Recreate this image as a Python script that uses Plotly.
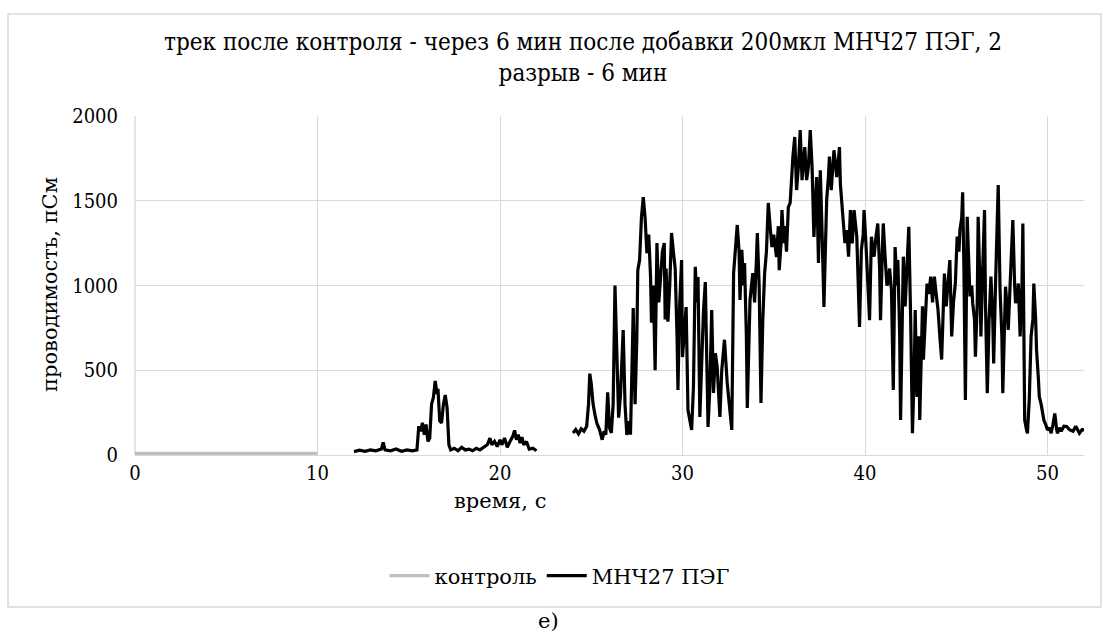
import plotly.graph_objects as go

# ---- data ----
ctrl_t = [0.0, 0.5, 1.0, 1.5, 2.0, 2.5, 3.0, 3.5, 4.0, 4.5, 5.0, 5.5, 6.0, 6.5, 7.0, 7.5, 8.0, 8.5, 9.0, 9.5, 10.0]
ctrl_v = [10, 9, 11, 8, 10, 9, 10, 8, 9, 10, 8, 9, 10, 9, 8, 10, 9, 10, 9, 10, 9]

seg1_t = [12.0, 12.3, 12.6, 12.9, 13.2, 13.5, 13.6, 13.7, 14.0, 14.3, 14.6, 14.9, 15.2, 15.45, 15.55,
          15.65, 15.75, 15.85, 15.95, 16.05, 16.15, 16.25, 16.35, 16.45, 16.55, 16.6, 16.7, 16.8, 16.9,
          17.0, 17.1, 17.2, 17.3, 17.5, 17.7, 17.9, 18.1, 18.3, 18.5, 18.7, 18.9, 19.1, 19.3, 19.45,
          19.55, 19.7, 19.85, 20.0, 20.1, 20.25, 20.4, 20.55, 20.7, 20.8, 20.9, 21.0, 21.1, 21.2, 21.3,
          21.45, 21.6, 21.8, 22.0]
seg1_v = [20, 28, 22, 30, 25, 35, 75, 30, 25, 35, 22, 30, 25, 30, 170,
          140, 190, 120, 180, 80, 100, 300, 340, 437, 360, 390, 200, 190, 300,
          354, 280, 60, 30, 40, 25, 45, 30, 35, 25, 40, 30, 45, 60, 100,
          60, 80, 50, 90, 60, 100, 45, 80, 110, 145, 90, 120, 70, 105, 60,
          80, 35, 40, 25]

seg2_t = [24.0, 24.15, 24.3, 24.45, 24.6, 24.75, 24.85, 24.92, 25.0, 25.1, 25.2, 25.3, 25.45, 25.6, 25.7,
          25.8, 25.9, 26.0, 26.1, 26.2, 26.3, 26.4, 26.5, 26.6, 26.75, 26.85, 26.95, 27.05, 27.15, 27.25,
          27.3, 27.4, 27.5, 27.55, 27.65, 27.75, 27.85, 27.95, 28.05, 28.15, 28.25, 28.3, 28.4, 28.5, 28.6,
          28.7, 28.8, 28.9, 29.0, 29.05, 29.1, 29.2, 29.3, 29.4, 29.5, 29.6, 29.7, 29.75, 29.85, 29.95,
          30.0, 30.1, 30.2, 30.3, 30.4, 30.5, 30.6, 30.7, 30.8, 30.85, 30.95, 31.05, 31.15, 31.25, 31.4,
          31.5, 31.6, 31.7, 31.8, 31.9, 32.0, 32.05, 32.15, 32.3, 32.45, 32.55, 32.65, 32.7, 32.8, 32.9,
          33.0, 33.1, 33.15, 33.25, 33.35, 33.4, 33.5, 33.55, 33.7, 33.85, 33.95, 34.05, 34.1, 34.2, 34.3,
          34.4, 34.5, 34.6, 34.7, 34.8, 34.9, 35.0, 35.1, 35.15, 35.25, 35.3, 35.4, 35.45, 35.55, 35.6,
          35.7, 35.8, 35.9, 36.0, 36.05, 36.15, 36.25, 36.35, 36.45, 36.55, 36.65, 36.7, 36.8, 36.9, 37.0,
          37.1, 37.2, 37.3, 37.35, 37.45, 37.55, 37.65, 37.75, 37.85, 37.9, 38.0, 38.05, 38.15, 38.25, 38.3,
          38.4, 38.45, 38.55, 38.6, 38.65, 38.75, 38.8, 38.9, 39.0, 39.1, 39.2, 39.3, 39.4, 39.5, 39.55,
          39.7, 39.8, 39.9, 39.95, 40.05, 40.1, 40.25, 40.35, 40.45, 40.5, 40.6, 40.7, 40.8, 40.85, 40.95,
          41.0, 41.1, 41.2, 41.25, 41.35, 41.45, 41.55, 41.65, 41.75, 41.8, 41.9, 41.95, 42.05, 42.1, 42.2,
          42.3, 42.4, 42.5, 42.6, 42.7, 42.75, 42.85, 42.95, 43.0, 43.1, 43.15, 43.2, 43.3, 43.4, 43.5,
          43.6, 43.7, 43.8, 43.9, 44.0, 44.1, 44.2, 44.3, 44.35, 44.45, 44.55, 44.65, 44.75, 44.85, 44.95,
          45.05, 45.15, 45.2, 45.3, 45.35, 45.42, 45.5, 45.6, 45.7, 45.75, 45.85, 45.9, 46.0, 46.05, 46.15,
          46.2, 46.3, 46.35, 46.45, 46.55, 46.6, 46.7, 46.8, 46.9, 47.0, 47.05, 47.15, 47.2, 47.3, 47.4,
          47.5, 47.55, 47.65, 47.7, 47.8, 47.85, 47.95, 48.0, 48.1, 48.2, 48.25, 48.35, 48.4, 48.5, 48.6,
          48.65, 48.75, 48.85, 48.9, 49.0, 49.1, 49.2, 49.25, 49.35, 49.4, 49.5, 49.55, 49.65, 49.7, 49.8,
          49.9, 50.0, 50.1, 50.2, 50.3, 50.4, 50.5, 50.55, 50.65, 50.75, 50.9, 51.05, 51.2, 51.4, 51.55,
          51.75, 51.9, 52.05, 52.2]
seg2_v = [130, 150, 125, 155, 140, 170, 300, 480, 420, 300, 240, 190, 150, 90, 140,
          120, 370, 160, 130, 300, 1000, 600, 220, 350, 737, 300, 118, 200, 120, 600,
          867, 300, 700, 1090, 1150, 1400, 1522, 1400, 1190, 1300, 1050, 780, 1000, 500, 1250,
          900, 1050, 1200, 1250, 800, 1100, 787, 1000, 1310, 1200, 1100, 700, 383, 900, 1150,
          578, 750, 873, 265, 200, 148, 400, 1110, 900, 1050, 224, 600, 850, 1020, 165,
          400, 855, 366, 600, 520, 300, 224, 500, 680, 425, 300, 200, 148, 1073, 1200,
          1357, 1200, 915, 1210, 1000, 1133, 700, 277, 915, 1073, 900, 1150, 1310, 1000, 307,
          800, 1073, 1200, 1487, 1350, 1227, 1300, 1200, 1168, 1350, 1090, 1250, 1445, 1250, 1350,
          1200, 1463, 1487, 1740, 1760, 1876, 1563, 1700, 1917, 1622, 1750, 1817, 1622, 1700, 1917,
          1700, 1287, 1500, 1640, 1133, 1680, 1306, 873, 1300, 1504, 1650, 1760, 1563, 1700, 1798,
          1700, 1640, 1750, 1817, 1600, 1450, 1386, 1250, 1327, 1170, 1445, 1248, 1445, 1300, 1288,
          755, 1209, 1300, 1445, 1250, 1110, 795, 1288, 1200, 1170, 1288, 1366, 1100, 795, 1200,
          1366, 1170, 1000, 1012, 1100, 972, 383, 1227, 1000, 1150, 700, 206, 800, 1170, 877,
          1100, 1346, 815, 128, 500, 855, 343, 700, 206, 600, 877, 563, 800, 1012, 950,
          1052, 900, 1052, 950, 857, 700, 563, 900, 1071, 877, 1000, 1150, 700, 900, 1012,
          1288, 1200, 1327, 1400, 1550, 1100, 324, 1406, 1100, 936, 1000, 896, 800, 580, 900,
          1406, 1000, 700, 1100, 1445, 900, 365, 800, 1052, 800, 540, 1000, 1248, 1593, 974,
          700, 365, 800, 993, 850, 738, 1000, 1150, 1386, 1000, 896, 950, 1012, 700, 1000,
          1366, 206, 150, 128, 324, 700, 800, 1012, 800, 620, 450, 345, 300, 266, 206,
          180, 147, 160, 128, 180, 245, 150, 128, 160, 140, 170, 168, 150, 140, 170,
          128, 150, 147, 130]

# join the two recorded segments of the sample trace (gap between them)
mnp_t = seg1_t + [None] + seg2_t
mnp_v = seg1_v + [None] + seg2_v

title_text = "трек после контроля - через 6 мин после добавки 200мкл МНЧ27 ПЭГ, 2<br>разрыв - 6 мин"
x_title = "время, с"
y_title = "проводимость, пСм"
name_ctrl = "контроль"
name_mnp = "МНЧ27 ПЭГ"
panel_label = "е)"

FONT = "DejaVu Serif"
FONTC = "DejaVu Serif Condensed"
GRID = "#D9D9D9"

fig = go.Figure()
fig.add_trace(go.Scatter(x=ctrl_t, y=ctrl_v, mode="lines", name=name_ctrl,
                         line=dict(color="#BFBFBF", width=3.2)))
fig.add_trace(go.Scatter(x=mnp_t, y=mnp_v, mode="lines", name=name_mnp,
                         line=dict(color="#000000", width=3.2), connectgaps=False))

L, R, T, B = 135, 1084, 116, 455
W, H = 1103, 637
pw, ph = R - L, B - T

def px(x):
    return (x - L) / pw

def py(y):
    return (B - y) / ph

fig.update_layout(
    width=W, height=H,
    margin=dict(l=L, r=W - R, t=T, b=H - B, pad=0),
    paper_bgcolor="white", plot_bgcolor="white",
    font=dict(family=FONT, size=21, color="#000000"),
    title=dict(text=title_text, x=583 / W, xanchor="center", xref="container",
               y=1 - 50 / H, yanchor="middle", yref="container",
               font=dict(family=FONTC, size=24, color="#000000")),
    showlegend=True,
    legend=dict(orientation="h", x=px(560), xanchor="center", y=py(576), yanchor="middle",
                font=dict(family=FONT, size=21, color="#000000"),
                itemwidth=40, traceorder="normal", bgcolor="rgba(0,0,0,0)"),
    xaxis=dict(range=[0, 52], tickvals=[0, 10, 20, 30, 40, 50], showgrid=True, gridcolor=GRID,
               gridwidth=1.3, zeroline=False, showline=True, linecolor=GRID, linewidth=1.3,
               ticks="", tickfont=dict(family=FONTC, size=20, color="#000000"),
               ticklabelstandoff=0),
    yaxis=dict(range=[0, 2000], tickvals=[0, 500, 1000, 1500, 2000], showgrid=True, gridcolor=GRID,
               gridwidth=1.3, zeroline=False, showline=False,
               ticks="", tickfont=dict(family=FONTC, size=20, color="#000000"),
               ticklabelstandoff=16),
    shapes=[dict(type="rect", xref="paper", yref="paper",
                 x0=px(8), x1=px(1101), y0=py(607), y1=py(14),
                 line=dict(color=GRID, width=1.5), fillcolor="rgba(0,0,0,0)", layer="below"),
            dict(type="line", xref="paper", yref="paper", x0=0, x1=0, y0=0, y1=1,
                 line=dict(color=GRID, width=1.3), layer="below")],
    annotations=[
        dict(text=x_title, xref="paper", yref="paper", x=px(500), y=py(501),
             xanchor="center", yanchor="middle", showarrow=False,
             font=dict(family=FONT, size=21, color="#000000")),
        dict(text=y_title, xref="paper", yref="paper", x=px(50), y=py(285),
             xanchor="center", yanchor="middle", showarrow=False, textangle=-90,
             font=dict(family=FONT, size=21, color="#000000")),
        dict(text=panel_label, xref="paper", yref="paper", x=px(548), y=py(621),
             xanchor="center", yanchor="middle", showarrow=False,
             font=dict(family=FONT, size=21, color="#000000")),
    ],
)

fig.write_html("out.html")
